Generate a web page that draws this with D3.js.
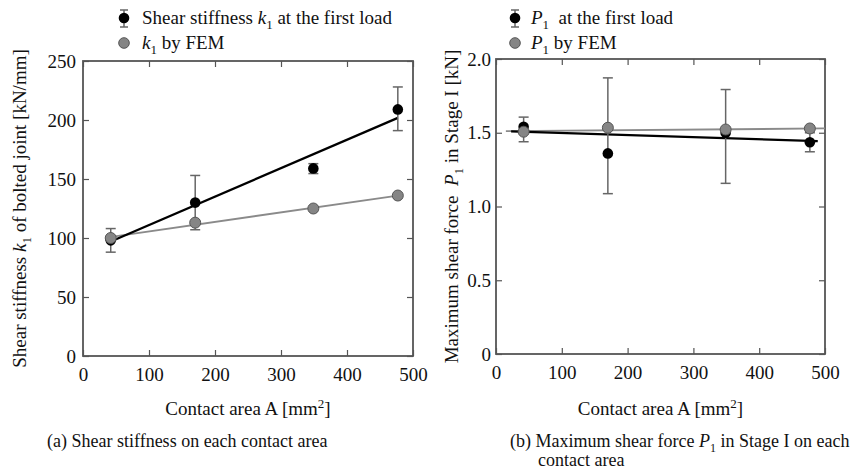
<!DOCTYPE html>
<html>
<head>
<meta charset="utf-8">
<script src="https://cdn.jsdelivr.net/npm/d3@7"></script>
<style>
  body { margin: 0; background: #fff; }
  svg { font-family: "Liberation Serif", "DejaVu Serif", serif; }
</style>
</head>
<body>
<script>
// contact areas (mm^2)
var areas = [42, 170, 349, 477];

// (a) shear stiffness k1 [kN/mm]
var k1Test = [98, 130, 159, 209];
var k1Hi = [108, 153, 163, 228];
var k1Lo = [88, 107, 154.6, 191];
var k1Fem = [100, 113, 125, 136];
var k1FitX = [43, 477], k1FitY = [97.3, 201.8];
var k1FemX = [43, 477], k1FemY = [101, 136];

// (b) max shear force P1 [kN]
var p1Test = [1.54, 1.36, 1.50, 1.436];
var p1Hi = [1.606, 1.872, 1.793, 1.50];
var p1Lo = [1.439, 1.087, 1.157, 1.371];
var p1Fem = [1.507, 1.534, 1.522, 1.529];
var p1FitX = [23, 489], p1FitY = [1.509, 1.443];
var p1FemX = [15, 500], p1FemY = [1.511, 1.529];

var xTicks = [0, 100, 200, 300, 400, 500];
var kTicks = [0, 50, 100, 150, 200, 250];
var pTicks = [0, 0.5, 1.0, 1.5, 2.0];

var axisCol = "#555";
var serif = "'Liberation Serif', 'DejaVu Serif', serif";

var svg = d3.select("body").append("svg")
    .attr("width", 859)
    .attr("height", 471)
    .style("font-family", serif);

function panel(opt) {
    var x = d3.scaleLinear().domain([0, 500]).range([opt.left, opt.right]);
    var y = d3.scaleLinear().domain(opt.yDomain).range([opt.bottom, opt.top]);
    var g = svg.append("g");

    // frame
    g.append("rect")
        .attr("x", opt.left).attr("y", opt.top)
        .attr("width", opt.right - opt.left).attr("height", opt.bottom - opt.top)
        .attr("fill", "none").attr("stroke", axisCol).attr("stroke-width", 1.8);

    var xa = g.append("g").attr("transform", "translate(0," + opt.bottom + ")")
        .call(d3.axisBottom(x).tickValues(xTicks).tickSize(-6).tickSizeOuter(0).tickPadding(9));
    var xt = g.append("g").attr("transform", "translate(0," + opt.top + ")")
        .call(d3.axisTop(x).tickValues(xTicks).tickSize(-6).tickSizeOuter(0).tickFormat(""));
    var ya = g.append("g").attr("transform", "translate(" + opt.left + ",0)")
        .call(d3.axisLeft(y).tickValues(opt.yTicks).tickSize(-6).tickSizeOuter(0)
            .tickPadding(opt.pad).tickFormat(opt.fmt));
    var yr = g.append("g").attr("transform", "translate(" + opt.right + ",0)")
        .call(d3.axisRight(y).tickValues(opt.yTicks).tickSize(-6).tickSizeOuter(0).tickFormat(""));
    [xa, xt, ya, yr].forEach(function(a) {
        a.select(".domain").remove();
        a.selectAll("line").attr("stroke", axisCol).attr("stroke-width", 1.2);
        a.selectAll("text")
            .style("font-family", serif)
            .style("font-size", "19px")
            .attr("fill", "#111");
    });
    xa.selectAll("text").attr("dy", "0.85em");

    // fit lines
    var line = d3.line().x(function(d) { return x(d[0]); }).y(function(d) { return y(d[1]); });
    g.append("path")
        .datum(d3.zip(opt.femX, opt.femY))
        .attr("d", line).attr("fill", "none").attr("stroke", "#8a8a8a").attr("stroke-width", 1.8);
    g.append("path")
        .datum(d3.zip(opt.fitX, opt.fitY))
        .attr("d", line).attr("fill", "none").attr("stroke", "#000").attr("stroke-width", 2.2);

    // error bars
    var eb = g.append("g").attr("stroke", "#666").attr("stroke-width", 1.5);
    areas.forEach(function(a, i) {
        var cx = x(a);
        eb.append("line").attr("x1", cx).attr("x2", cx).attr("y1", y(opt.hi[i])).attr("y2", y(opt.lo[i]));
        eb.append("line").attr("x1", cx - 5).attr("x2", cx + 5).attr("y1", y(opt.hi[i])).attr("y2", y(opt.hi[i]));
        eb.append("line").attr("x1", cx - 5).attr("x2", cx + 5).attr("y1", y(opt.lo[i])).attr("y2", y(opt.lo[i]));
    });

    g.selectAll(".test").data(opt.test).enter().append("circle")
        .attr("cx", function(d, i) { return x(areas[i]); })
        .attr("cy", function(d) { return y(d); })
        .attr("r", 5.3).attr("fill", "#000");
    g.selectAll(".fem").data(opt.fem).enter().append("circle")
        .attr("cx", function(d, i) { return x(areas[i]); })
        .attr("cy", function(d) { return y(d); })
        .attr("r", 5.5).attr("fill", "#858585").attr("stroke", "#555").attr("stroke-width", 1);

    // x title
    var xt2 = g.append("text").attr("x", (opt.left + opt.right) / 2).attr("y", 415)
        .attr("text-anchor", "middle").attr("font-size", 19).attr("fill", "#111");
    xt2.append("tspan").text("Contact area A [mm");
    xt2.append("tspan").attr("font-size", 13).attr("dy", -7).text("2");
    xt2.append("tspan").attr("dy", 7).text("]");

    // y title
    var yt = g.append("text")
        .attr("transform", "translate(" + opt.yTitleX + "," + (opt.top + opt.bottom) / 2 + ") rotate(-90)")
        .attr("text-anchor", "middle").attr("font-size", 19).attr("fill", "#111");
    opt.yTitle(yt);

    // legend
    var lg = g.append("g");
    var lx = opt.legX;
    lg.append("line").attr("x1", lx).attr("x2", lx).attr("y1", 10).attr("y2", 27)
        .attr("stroke", "#666").attr("stroke-width", 1.5);
    [10, 27].forEach(function(yy) {
        lg.append("line").attr("x1", lx - 4).attr("x2", lx + 4).attr("y1", yy).attr("y2", yy)
            .attr("stroke", "#666").attr("stroke-width", 1.5);
    });
    lg.append("circle").attr("cx", lx).attr("cy", 18).attr("r", 5.3).attr("fill", "#000");
    lg.append("circle").attr("cx", lx).attr("cy", 43).attr("r", 5.3)
        .attr("fill", "#858585").attr("stroke", "#555").attr("stroke-width", 1);
    var t1 = lg.append("text").attr("x", opt.legTextX).attr("y", 24).attr("font-size", 19).attr("fill", "#111");
    opt.leg1(t1);
    var t2 = lg.append("text").attr("x", opt.legTextX).attr("y", 49).attr("font-size", 19).attr("fill", "#111");
    opt.leg2(t2);
}

function sym(t, letter) {
    t.append("tspan").attr("font-style", "italic").text(letter);
    t.append("tspan").attr("font-size", 13).attr("dy", 5).text("1");
    return t.append("tspan").attr("dy", -5);
}

panel({
    left: 83, right: 413, top: 61, bottom: 356,
    yDomain: [0, 250], yTicks: kTicks, pad: 7,
    fmt: d3.format("d"),
    test: k1Test, hi: k1Hi, lo: k1Lo, fem: k1Fem,
    fitX: k1FitX, fitY: k1FitY, femX: k1FemX, femY: k1FemY,
    yTitleX: 26,
    yTitle: function(t) {
        t.append("tspan").text("Shear stiffness ");
        sym(t, "k").text(" of bolted joint [kN/mm]");
    },
    legX: 124, legTextX: 142,
    leg1: function(t) { t.append("tspan").text("Shear stiffness "); sym(t, "k").text(" at the first load"); },
    leg2: function(t) { sym(t, "k").text(" by FEM"); }
});

panel({
    left: 496, right: 825, top: 59, bottom: 354,
    yDomain: [0, 2], yTicks: pTicks, pad: 5,
    fmt: function(d) { return d === 0 ? "0" : d3.format(".1f")(d); },
    test: p1Test, hi: p1Hi, lo: p1Lo, fem: p1Fem,
    fitX: p1FitX, fitY: p1FitY, femX: p1FemX, femY: p1FemY,
    yTitleX: 458,
    yTitle: function(t) {
        t.append("tspan").text("Maximum shear force\u00a0 ");
        sym(t, "P").text(" in Stage I [kN]");
    },
    legX: 515, legTextX: 531,
    leg1: function(t) { sym(t, "P").text("\u00a0 at the first load"); },
    leg2: function(t) { sym(t, "P").text(" by FEM"); }
});

// captions
svg.append("text").attr("x", 47).attr("y", 447).attr("font-size", 18).attr("fill", "#111")
    .text("(a)  Shear stiffness on each contact area");
var cb = svg.append("text").attr("x", 510).attr("y", 447).attr("font-size", 18).attr("fill", "#111");
cb.append("tspan").text("(b)  Maximum shear force ");
cb.append("tspan").attr("font-style", "italic").text("P");
cb.append("tspan").attr("font-size", 12).attr("dy", 5).text("1");
cb.append("tspan").attr("dy", -5).text(" in Stage I on each");
svg.append("text").attr("x", 538).attr("y", 466).attr("font-size", 18).attr("fill", "#111")
    .text("contact area");
</script>
</body>
</html>
